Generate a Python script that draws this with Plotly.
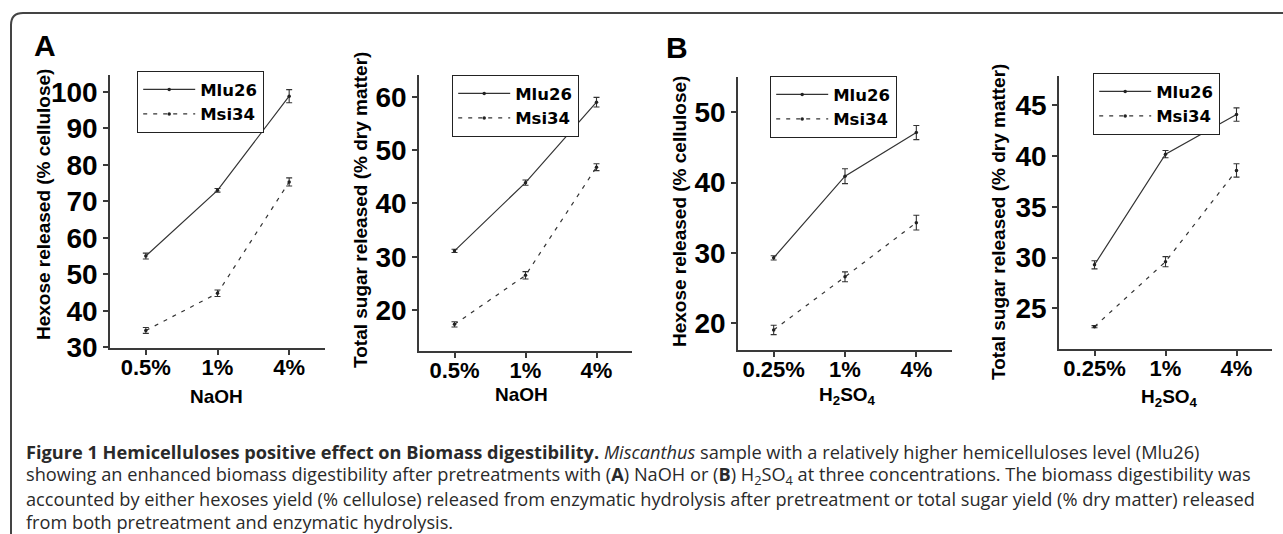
import plotly.graph_objects as go

W, H = 1283, 534
# vertical calibration: the captured picture is squeezed vertically by ~2.8 %,
# so layout positions are expressed against an effective height of 519 px
H_EFF = 519

# ---------------- data ----------------
naoh_levels = ["0.5%", "1%", "4%"]
h2so4_levels = ["0.25%", "1%", "4%"]
series_names = ["Mlu26", "Msi34"]

hex_naoh_mlu26 = [55.0, 73.0, 98.8]
hex_naoh_mlu26_err = [0.8, 0.5, 1.8]
hex_naoh_msi34 = [34.6, 44.8, 75.3]
hex_naoh_msi34_err = [0.8, 0.9, 1.1]

sug_naoh_mlu26 = [31.1, 43.9, 59.0]
sug_naoh_mlu26_err = [0.3, 0.5, 0.9]
sug_naoh_msi34 = [17.3, 26.5, 46.8]
sug_naoh_msi34_err = [0.5, 0.7, 0.65]

hex_h2so4_mlu26 = [29.3, 40.9, 47.1]
hex_h2so4_mlu26_err = [0.3, 1.05, 1.0]
hex_h2so4_msi34 = [19.05, 26.6, 34.3]
hex_h2so4_msi34_err = [0.66, 0.7, 1.05]

sug_h2so4_mlu26 = [29.3, 40.2, 44.1]
sug_h2so4_mlu26_err = [0.4, 0.36, 0.66]
sug_h2so4_msi34 = [23.2, 29.6, 38.6]
sug_h2so4_msi34_err = [0.1, 0.5, 0.66]

y_titles = ["Hexose released (% cellulose)", "Total sugar released (% dry matter)",
            "Hexose released (% cellulose)", "Total sugar released (% dry matter)"]
x_titles = ["NaOH", "NaOH", "H<sub>2</sub>SO<sub>4</sub>", "H<sub>2</sub>SO<sub>4</sub>"]
y_ticks = [[30, 40, 50, 60, 70, 80, 90, 100], [20, 30, 40, 50, 60],
           [20, 30, 40, 50], [25, 30, 35, 40, 45]]

caption_lines = [
    "<b>Figure 1 Hemicelluloses positive effect on Biomass digestibility.</b> <i>Miscanthus</i> sample with a relatively higher hemicelluloses level (Mlu26)",
    "showing an enhanced biomass digestibility after pretreatments with (<b>A</b>) NaOH or (<b>B</b>) H<sub>2</sub>SO<sub>4</sub> at three concentrations. The biomass digestibility was",
    "accounted by either hexoses yield (% cellulose) released from enzymatic hydrolysis after pretreatment or total sugar yield (% dry matter) released",
    "from both pretreatment and enzymatic hydrolysis.",
]

# ---------------- layout geometry (pixels of the 1283x534 picture) ----------------
panels = [
    dict(cats=naoh_levels, a=(hex_naoh_mlu26, hex_naoh_mlu26_err), b=(hex_naoh_msi34, hex_naoh_msi34_err),
         xd=(110, 325), yd=(75, 348), yr=[29.8, 104.6], leg=(137, 71), yt=(43, 205), xt=(217, 396)),
    dict(cats=naoh_levels, a=(sug_naoh_mlu26, sug_naoh_mlu26_err), b=(sug_naoh_msi34, sug_naoh_msi34_err),
         xd=(419, 632), yd=(75, 351), yr=[12.3, 64.1], leg=(452, 75), yt=(360, 210), xt=(521, 394)),
    dict(cats=h2so4_levels, a=(hex_h2so4_mlu26, hex_h2so4_mlu26_err), b=(hex_h2so4_msi34, hex_h2so4_msi34_err),
         xd=(738, 952), yd=(77, 350), yr=[16.2, 55.0], leg=(770, 76), yt=(680, 211), xt=(848, 396)),
    dict(cats=h2so4_levels, a=(sug_h2so4_mlu26, sug_h2so4_mlu26_err), b=(sug_h2so4_msi34, sug_h2so4_msi34_err),
         xd=(1059, 1272), yd=(76, 349), yr=[21.0, 47.9], leg=(1093, 73), yt=(998, 222), xt=(1169, 398)),
]

def px(x):
    return x / W

def py(y):
    return 1 - y / H_EFF

fig = go.Figure()
layout = dict(
    width=W, height=H, autosize=False, margin=dict(l=0, r=0, t=0, b=0),
    paper_bgcolor="white", plot_bgcolor="white", showlegend=True,
)
annotations = []
axis_color = "#3a3a3a"
bold_font = "Liberation Sans, Arial, sans-serif"

for i, p in enumerate(panels, start=1):
    sfx = "" if i == 1 else str(i)
    leg = "legend" if i == 1 else f"legend{i}"
    for name, (vals, errs), dash in zip(series_names, (p["a"], p["b"]), ("solid", "4px,6px")):
        fig.add_trace(go.Scatter(
            x=p["cats"], y=vals, name=name, mode="lines+markers",
            xaxis=f"x{sfx}", yaxis=f"y{sfx}", legend=leg,
            line=dict(color="#333333", width=1.2, dash=dash),
            marker=dict(size=3.5, color="#222222"),
            error_y=dict(type="data", array=errs, visible=True, color="#333333",
                         thickness=1.1, width=3),
        ))
    layout[f"xaxis{sfx}"] = dict(
        domain=[px(p["xd"][0]), px(p["xd"][1])], anchor=f"y{sfx}",
        type="category", range=[-0.5, 2.5],
        showline=True, linecolor=axis_color, linewidth=1.5, mirror=False,
        ticks="outside", ticklen=5, tickwidth=1.5, tickcolor=axis_color,
        ticklabelstandoff=-6,
        showgrid=False, zeroline=False,
        tickfont=dict(family=bold_font, size=22, color="black", weight="bold"),
    )
    layout[f"yaxis{sfx}"] = dict(
        domain=[py(p["yd"][1]), py(p["yd"][0])], anchor=f"x{sfx}",
        range=p["yr"], tickvals=y_ticks[i - 1],
        showline=True, linecolor=axis_color, linewidth=1.5, mirror=False,
        ticks="outside", ticklen=5, tickwidth=1.5, tickcolor=axis_color,
        showgrid=False, zeroline=False,
        tickfont=dict(family=bold_font, size=28, color="black", weight="bold"),
    )
    layout[leg] = dict(
        x=px(p["leg"][0]), y=py(p["leg"][1]), xanchor="left", yanchor="top",
        bordercolor="#222222", borderwidth=1.2, bgcolor="white",
        font=dict(family="DejaVu Sans, sans-serif", size=16.5, color="black", weight="bold"),
        tracegroupgap=0, itemwidth=52,
    )
    annotations.append(dict(
        text=y_titles[i - 1], x=px(p["yt"][0]), y=py(p["yt"][1]), xref="paper", yref="paper",
        textangle=-90, showarrow=False, xanchor="center", yanchor="middle",
        font=dict(family=bold_font, size=19, color="black", weight="bold"),
    ))
    annotations.append(dict(
        text=x_titles[i - 1], x=px(p["xt"][0]), y=py(p["xt"][1]), xref="paper", yref="paper",
        showarrow=False, xanchor="center", yanchor="middle",
        font=dict(family=bold_font, size=19, color="black", weight="bold"),
    ))

# panel letters
annotations.append(dict(text="A", x=px(45), y=py(45), xref="paper", yref="paper", showarrow=False,
                        xanchor="center", yanchor="middle",
                        font=dict(family=bold_font, size=30, color="black", weight="bold")))
annotations.append(dict(text="B", x=px(677), y=py(47), xref="paper", yref="paper", showarrow=False,
                        xanchor="center", yanchor="middle",
                        font=dict(family=bold_font, size=30, color="black", weight="bold")))

# caption
for k, line in enumerate(caption_lines):
    annotations.append(dict(text=line, x=px(24), y=py(452 + 23.4 * k), xref="paper", yref="paper",
                            showarrow=False, xanchor="left", yanchor="middle", align="left",
                            font=dict(family="Open Sans, sans-serif", size=18.2, color="#2a2a2a")))

layout["annotations"] = annotations

# rounded frame (top and left edges)
r = 12
path = (f"M {px(11)},{py(534)} L {px(11)},{py(13 + r)} "
        f"Q {px(11)},{py(13)} {px(11 + r)},{py(13)} L {px(1283)},{py(13)}")
layout["shapes"] = [dict(type="path", path=path, xref="paper", yref="paper",
                         line=dict(color="#444444", width=2))]

fig.update_layout(**layout)
fig.write_html("out.html",
               config={"displayModeBar": False},
               default_width=f"{W}px",
               default_height=f"{H}px;position:fixed;top:0;left:0",
               post_script="document.body.style.margin='0';document.body.style.overflow='hidden';")
